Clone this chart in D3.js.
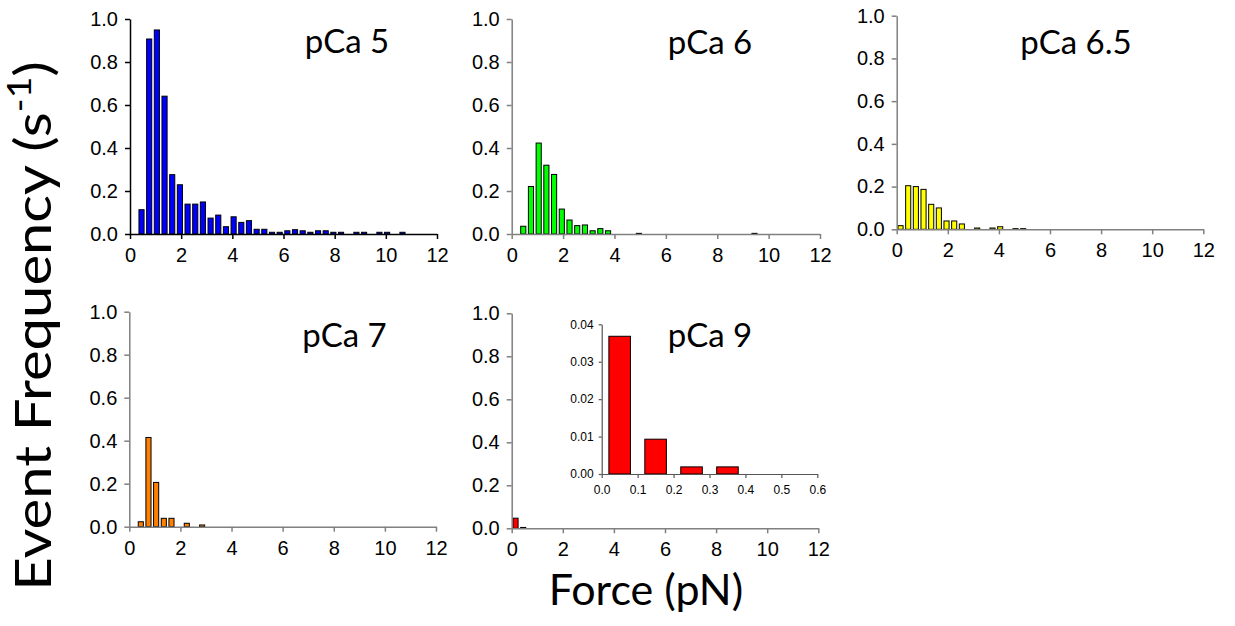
<!DOCTYPE html>
<html>
<head>
<meta charset="utf-8">
<script src="https://cdn.jsdelivr.net/npm/d3@7"></script>
<style>
  body { margin: 0; background: #fff; }
  .tick text { font-family: "Liberation Sans", Arial, sans-serif; fill: #000; }
</style>
</head>
<body>
<div id="vis"></div>
<script>
const width = 1235;
const height = 626;

// force bin centres (pN), 0.3 pN bins
const forceBins = [0.15, 0.45, 0.75, 1.05, 1.35, 1.65, 1.95, 2.25, 2.55, 2.85,
  3.15, 3.45, 3.75, 4.05, 4.35, 4.65, 4.95, 5.25, 5.55, 5.85,
  6.15, 6.45, 6.75, 7.05, 7.35, 7.65, 7.95, 8.25, 8.55, 8.85,
  9.15, 9.45, 9.75, 10.05, 10.35, 10.65];

// event frequency (s^-1) per bin
const pca5 = [0, 0.113, 0.907, 0.949, 0.641, 0.276, 0.229, 0.139, 0.139, 0.149,
  0.074, 0.088, 0.034, 0.080, 0.054, 0.062, 0.022, 0.022, 0.008, 0.008,
  0.015, 0.020, 0.015, 0.008, 0.015, 0.015, 0.008, 0.008, 0, 0.008,
  0.008, 0, 0.008, 0.008, 0, 0.008];
const pca6 = [0, 0.036, 0.221, 0.423, 0.320, 0.277, 0.116, 0.065, 0.039, 0.042,
  0.015, 0.025, 0.015, 0, 0, 0, 0.003, 0, 0, 0,
  0, 0, 0, 0, 0, 0, 0, 0, 0, 0,
  0, 0.003, 0, 0, 0, 0];
const pca65 = [0.017, 0.204, 0.200, 0.187, 0.117, 0.100, 0.039, 0.039, 0.025, 0,
  0.006, 0, 0.006, 0.012, 0, 0.003, 0.003, 0, 0, 0,
  0, 0, 0, 0, 0, 0, 0, 0, 0, 0,
  0, 0, 0, 0, 0, 0];
const pca7 = [0, 0.023, 0.415, 0.206, 0.039, 0.039, 0, 0.016, 0, 0.008,
  0, 0, 0, 0, 0, 0, 0, 0, 0, 0,
  0, 0, 0, 0, 0, 0, 0, 0, 0, 0,
  0, 0, 0, 0, 0, 0];
const pca9 = [0.047, 0.004, 0, 0, 0, 0, 0, 0, 0, 0,
  0, 0, 0, 0, 0, 0, 0, 0, 0, 0,
  0, 0, 0, 0, 0, 0, 0, 0, 0, 0,
  0, 0, 0, 0, 0, 0];

// pCa 9 inset, 0.1 pN bins
const insetBins = [0.05, 0.15, 0.25, 0.35, 0.45, 0.55];
const insetValues = [0.0368, 0.0093, 0.0019, 0.0019, 0, 0];

const xTicks = [0, 2, 4, 6, 8, 10, 12];
const yTicks = [0, 0.2, 0.4, 0.6, 0.8, 1.0];
const insetXTicks = [0, 0.1, 0.2, 0.3, 0.4, 0.5, 0.6];
const insetYTicks = [0, 0.01, 0.02, 0.03, 0.04];

const panels = [
  { title: "pCa 5", values: pca5, color: "#0000ff", x0: 130, x1: 437, y0: 19, y1: 234, axis: "#000", tx: 347, ty: 53 },
  { title: "pCa 6", values: pca6, color: "#00ff00", x0: 511.7, x1: 820, y0: 19, y1: 234, axis: "#808080", tx: 710, ty: 54 },
  { title: "pCa 6.5", values: pca65, color: "#ffff00", x0: 896.7, x1: 1203.3, y0: 15.7, y1: 229.3, axis: "#808080", tx: 1076, ty: 54 },
  { title: "pCa 7", values: pca7, color: "#ff8000", x0: 129.3, x1: 436, y0: 311.7, y1: 526.7, axis: "#808080", tx: 344.5, ty: 347 },
  { title: "pCa 9", values: pca9, color: "#ff0000", x0: 511.7, x1: 818.3, y0: 313.3, y1: 528.3, axis: "#808080", tx: 710, ty: 347 }
];

const svg = d3.select("#vis")
  .append("svg")
  .attr("width", width)
  .attr("height", height)
  .style("background-color", "#fff");

panels.forEach(p => {
  const x = d3.scaleLinear().domain([0, 12]).range([p.x0, p.x1]);
  const y = d3.scaleLinear().domain([0, 1]).range([p.y1, p.y0]);
  const g = svg.append("g");

  const barW = x(0.2) - x(0);
  g.selectAll("rect")
    .data(forceBins.map((f, i) => [f, p.values[i]]).filter(d => d[1] > 0))
    .enter()
    .append("rect")
    .attr("x", d => x(d[0]) - barW / 2)
    .attr("y", d => y(d[1]))
    .attr("width", barW)
    .attr("height", d => y(0) - y(d[1]))
    .attr("fill", p.color)
    .attr("stroke", "#000")
    .attr("stroke-width", 1);

  const xAxis = g.append("g")
    .attr("transform", "translate(0," + p.y1 + ")")
    .call(d3.axisBottom(x).tickValues(xTicks).tickFormat(d3.format("d")).tickSize(5).tickSizeOuter(0).tickPadding(9));
  const yAxis = g.append("g")
    .attr("transform", "translate(" + p.x0 + ",0)")
    .call(d3.axisLeft(y).tickValues(yTicks).tickFormat(d3.format(".1f")).tickSize(5).tickSizeOuter(0).tickPadding(7));
  [xAxis, yAxis].forEach(a => {
    a.selectAll("path, line").attr("stroke", p.axis).attr("stroke-width", 1.5);
    a.selectAll("text").style("font-size", "20px");
  });

  g.append("text")
    .text(p.title)
    .attr("x", p.tx)
    .attr("y", p.ty)
    .attr("text-anchor", "middle")
    .style("font-family", "Lato, 'Open Sans', sans-serif")
    .style("font-size", "33px")
    .style("fill", "#000");
});

// inset for pCa 9
const ix = d3.scaleLinear().domain([0, 0.6]).range([601.7, 817.3]);
const iy = d3.scaleLinear().domain([0, 0.04]).range([474, 324.3]);
const inset = svg.append("g");
const iBarW = ix(0.06) - ix(0);
inset.selectAll("rect")
  .data(insetBins.map((f, i) => [f, insetValues[i]]).filter(d => d[1] > 0))
  .enter()
  .append("rect")
  .attr("x", d => ix(d[0]) - iBarW / 2)
  .attr("y", d => iy(d[1]))
  .attr("width", iBarW)
  .attr("height", d => iy(0) - iy(d[1]))
  .attr("fill", "#ff0000")
  .attr("stroke", "#000")
  .attr("stroke-width", 1);

const ixAxis = inset.append("g")
  .attr("transform", "translate(0,474)")
  .call(d3.axisBottom(ix).tickValues(insetXTicks).tickFormat(d3.format(".1f")).tickSize(4).tickSizeOuter(0).tickPadding(7));
const iyAxis = inset.append("g")
  .attr("transform", "translate(601.7,0)")
  .call(d3.axisLeft(iy).tickValues(insetYTicks).tickFormat(d3.format(".2f")).tickSize(3).tickSizeOuter(0).tickPadding(5));
[ixAxis, iyAxis].forEach(a => {
  a.selectAll("path, line").attr("stroke", "#555").attr("stroke-width", 1.2);
  a.selectAll("text").style("font-size", "12px");
});

// axis titles
svg.append("text")
  .text("Force (pN)")
  .attr("x", 646)
  .attr("y", 605)
  .attr("text-anchor", "middle")
  .style("font-family", "Lato, 'Open Sans', sans-serif")
  .style("font-size", "43px")
  .style("fill", "#000");

const yTitle = svg.append("text")
  .attr("transform", "translate(51,326) rotate(-90) scale(1.16,1)")
  .attr("text-anchor", "middle")
  .style("font-family", "Lato, 'Open Sans', sans-serif")
  .style("font-size", "50px")
  .style("fill", "#000");
yTitle.append("tspan").text("Event Frequency (s");
yTitle.append("tspan").text("-1").attr("dy", -20).style("font-size", "32px");
yTitle.append("tspan").text(")").attr("dy", 20);
</script>
</body>
</html>
